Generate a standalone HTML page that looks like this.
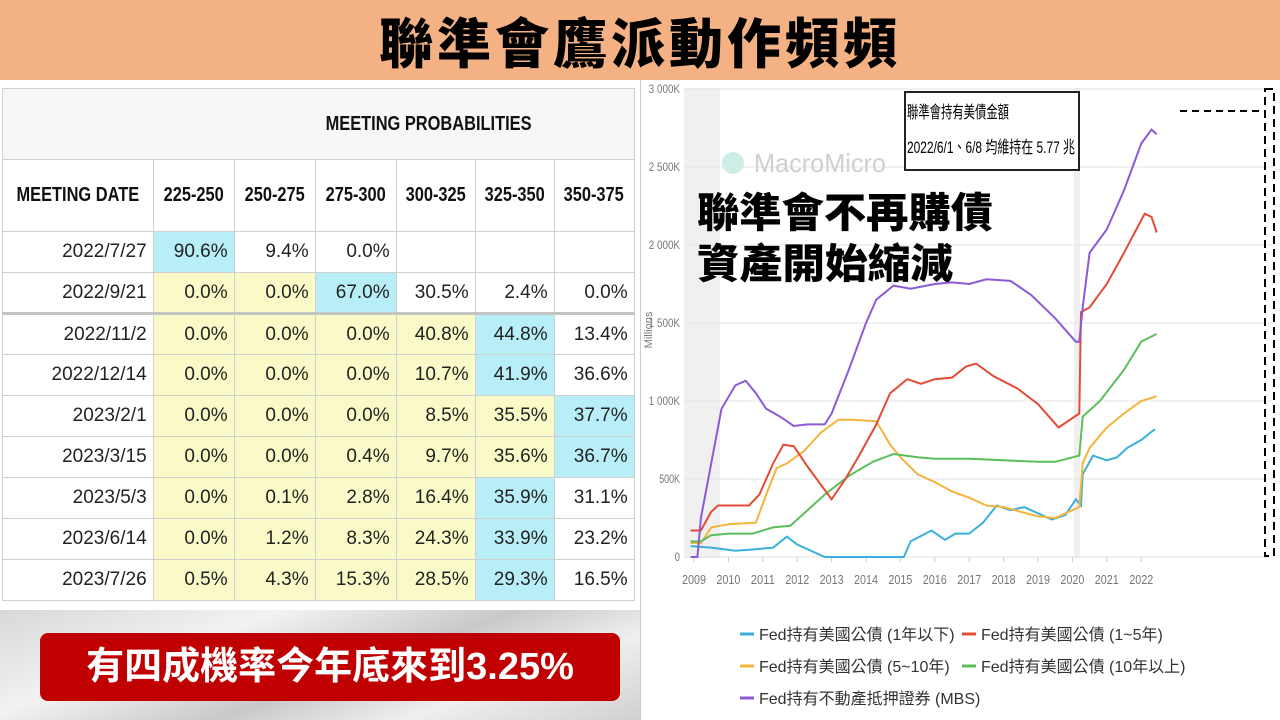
<!DOCTYPE html>
<html><head><meta charset="utf-8">
<style>
body{margin:0;width:1280px;height:720px;overflow:hidden;background:#fff;font-family:"Liberation Sans","Noto Sans CJK TC",sans-serif;position:relative}
#title{position:absolute;left:0;top:0;width:1280px;height:80px;background:#f4b183;text-align:center;font:900 54px/80px "Noto Sans CJK TC",sans-serif;color:#000;letter-spacing:4px}
#bg{position:absolute;left:0;top:610px;width:640px;height:110px;background:linear-gradient(160deg,#d8d8d8,#f2f2f2 30%,#c9c9c9 55%,#efefef 75%,#d0d0d0)}
table{position:absolute;left:2px;top:88px;border-collapse:collapse;font-size:19px;color:#222;background:#fff;table-layout:fixed}
td{border:1px solid #d0d0d0;height:41px;text-align:right;padding:0 6px;box-sizing:border-box;white-space:nowrap;overflow:hidden}
.y{background:#fafac8}.c{background:#b8eef8}
.h td{font-weight:bold;text-align:center;background:#f7f7f7;height:71px;color:#111}
.k{display:inline-block;transform:scaleX(0.82);transform-origin:center}
.sep td{border-top:3px solid #c4c4c4}
#red{position:absolute;left:40px;top:633px;width:580px;height:68px;background:#c00000;border-radius:8px;color:#fff;font:bold 38px/68px "Liberation Sans","Noto Sans CJK TC",sans-serif;text-align:center}
#right{position:absolute;left:640px;top:80px;width:640px;height:640px;border-left:1px solid #ccc}
</style></head><body>
<div id="title">聯準會鷹派動作頻頻</div>
<div id="bg"></div>
<table>
<colgroup><col style="width:150px"><col style="width:81px"><col style="width:81px"><col style="width:81px"><col style="width:79px"><col style="width:79px"><col style="width:80px"></colgroup>
<tr class="h"><td style="border-right:none"></td><td colspan="6" style="text-align:left;padding-left:150px;border-left:none;font-size:20px"><span class="k">MEETING PROBABILITIES</span></td></tr>
<tr class="h"><td style="height:72px;background:#fff;padding:0;font-size:20px"><span class="k">MEETING DATE</span></td><td style="background:#fff;padding:0;font-size:20px"><span class="k">225-250</span></td><td style="background:#fff;padding:0;font-size:20px"><span class="k">250-275</span></td><td style="background:#fff;padding:0;font-size:20px"><span class="k">275-300</span></td><td style="background:#fff;padding:0;font-size:20px"><span class="k">300-325</span></td><td style="background:#fff;padding:0;font-size:20px"><span class="k">325-350</span></td><td style="background:#fff;padding:0;font-size:20px"><span class="k">350-375</span></td></tr>
<tr><td>2022/7/27</td><td class="c">90.6%</td><td>9.4%</td><td>0.0%</td><td></td><td></td><td></td></tr>
<tr><td>2022/9/21</td><td class="y">0.0%</td><td class="y">0.0%</td><td class="c">67.0%</td><td>30.5%</td><td>2.4%</td><td>0.0%</td></tr>
<tr class="sep"><td>2022/11/2</td><td class="y">0.0%</td><td class="y">0.0%</td><td class="y">0.0%</td><td class="y">40.8%</td><td class="c">44.8%</td><td>13.4%</td></tr>
<tr><td>2022/12/14</td><td class="y">0.0%</td><td class="y">0.0%</td><td class="y">0.0%</td><td class="y">10.7%</td><td class="c">41.9%</td><td>36.6%</td></tr>
<tr><td>2023/2/1</td><td class="y">0.0%</td><td class="y">0.0%</td><td class="y">0.0%</td><td class="y">8.5%</td><td class="y">35.5%</td><td class="c">37.7%</td></tr>
<tr><td>2023/3/15</td><td class="y">0.0%</td><td class="y">0.0%</td><td class="y">0.4%</td><td class="y">9.7%</td><td class="y">35.6%</td><td class="c">36.7%</td></tr>
<tr><td>2023/5/3</td><td class="y">0.0%</td><td class="y">0.1%</td><td class="y">2.8%</td><td class="y">16.4%</td><td class="c">35.9%</td><td>31.1%</td></tr>
<tr><td>2023/6/14</td><td class="y">0.0%</td><td class="y">1.2%</td><td class="y">8.3%</td><td class="y">24.3%</td><td class="c">33.9%</td><td>23.2%</td></tr>
<tr><td>2023/7/26</td><td class="y">0.5%</td><td class="y">4.3%</td><td class="y">15.3%</td><td class="y">28.5%</td><td class="c">29.3%</td><td>16.5%</td></tr>
</table>
<div id="red">有四成機率今年底來到3.25%</div>
<div id="right"></div>
<svg id="ch" width="1280" height="720" style="position:absolute;left:0;top:0" font-family="Liberation Sans, sans-serif"></svg>
<script>
var s=document.getElementById('ch'),h='';
function X(t){return 694+(t-2009)*34.4}function Y(v){return 557-v*0.156}
h+='<rect x="684" y="88" width="36" height="470" fill="#f0f0f0"/><rect x="1074" y="88" width="6" height="470" fill="#f0f0f0"/>';
var labs=['0','500K','1 000K','1 500K','2 000K','2 500K','3 000K'];
for(var i=0;i<=6;i++){var y=Y(i*500);h+='<line x1="684" x2="1272" y1="'+y+'" y2="'+y+'" stroke="#e4e4e4"/>';h+='<text x="680" y="'+(y+4)+'" font-size="12" fill="#777" text-anchor="end" textLength="'+(labs[i].length*5.2)+'" lengthAdjust="spacingAndGlyphs">'+labs[i]+'</text>';}
for(var yr=2009;yr<=2022;yr++){h+='<text x="'+(X(yr)-12)+'" y="584" font-size="13" fill="#777" textLength="24" lengthAdjust="spacingAndGlyphs">'+yr+'</text><line x1="'+X(yr)+'" x2="'+X(yr)+'" y1="557" y2="562" stroke="#ccc"/>';}
h+='<text x="652" y="330" font-size="11" fill="#777" transform="rotate(-90 652 330)" text-anchor="middle">Millions</text>';
h+='<circle cx="733" cy="163" r="11" fill="#cdeee6"/><text x="754" y="172" font-size="26" fill="#cfcfcf" textLength="132" lengthAdjust="spacingAndGlyphs">MacroMicro</text>';
var S={
p:['#8a5ad8',[[2008.9,0],[2009.1,0],[2009.2,250],[2009.5,600],[2009.8,950],[2010.2,1100],[2010.5,1130],[2010.8,1050],[2011.1,950],[2011.5,900],[2011.9,840],[2012.3,850],[2012.8,850],[2013,920],[2013.5,1200],[2014,1500],[2014.3,1650],[2014.8,1740],[2015.3,1720],[2016,1750],[2016.5,1760],[2017,1750],[2017.5,1780],[2018.2,1770],[2018.8,1680],[2019.5,1530],[2020.1,1380],[2020.2,1380],[2020.3,1600],[2020.5,1950],[2021,2100],[2021.5,2350],[2022,2650],[2022.3,2740],[2022.45,2710]]],
r:['#e44b35',[[2008.9,170],[2009.2,170],[2009.5,290],[2009.7,330],[2010.6,330],[2010.9,400],[2011.3,600],[2011.6,720],[2011.9,710],[2012.3,580],[2012.8,430],[2013,370],[2013.4,500],[2013.8,650],[2014.3,850],[2014.7,1050],[2015.2,1140],[2015.6,1110],[2016,1140],[2016.5,1150],[2016.9,1220],[2017.2,1240],[2017.7,1160],[2018.4,1080],[2019,980],[2019.6,830],[2020.2,920],[2020.25,1570],[2020.5,1600],[2021,1750],[2021.5,1950],[2022.1,2200],[2022.3,2180],[2022.45,2080]]],
o:['#f4b43c',[[2008.9,90],[2009.2,90],[2009.5,190],[2010,210],[2010.8,220],[2011.1,400],[2011.4,570],[2011.7,600],[2012.2,680],[2012.7,800],[2013.2,880],[2013.6,880],[2014.3,870],[2014.7,720],[2015,640],[2015.5,530],[2016,480],[2016.5,420],[2017,380],[2017.5,330],[2018,320],[2018.5,290],[2019,260],[2019.5,250],[2020,300],[2020.2,320],[2020.3,600],[2020.5,700],[2021,830],[2021.5,920],[2022,1000],[2022.45,1030]]],
g:['#5cbf5c',[[2008.9,100],[2009.2,100],[2009.5,140],[2010,150],[2010.7,150],[2011.3,190],[2011.8,200],[2012.3,300],[2012.8,400],[2013.5,520],[2014.2,610],[2014.8,660],[2015.5,640],[2016,630],[2017,630],[2018,620],[2019,610],[2019.5,610],[2020.2,650],[2020.3,900],[2020.8,1000],[2021.5,1200],[2022,1380],[2022.45,1430]]],
c:['#3ab0da',[[2008.9,70],[2009.5,60],[2010.2,40],[2010.8,50],[2011.3,60],[2011.7,130],[2012,80],[2012.5,30],[2012.8,0],[2015.1,0],[2015.3,100],[2015.9,170],[2016.3,110],[2016.6,150],[2017,150],[2017.4,220],[2017.8,330],[2018.2,300],[2018.6,320],[2019,280],[2019.4,240],[2019.8,270],[2020.1,370],[2020.25,330],[2020.3,530],[2020.6,650],[2021,620],[2021.3,640],[2021.6,700],[2022,750],[2022.4,820]]]};
['c','o','g','r','p'].forEach(function(k){h+='<polyline fill="none" stroke-width="2" stroke="'+S[k][0]+'" points="'+S[k][1].map(function(p){return X(p[0]).toFixed(1)+','+Y(p[1]).toFixed(1)}).join(' ')+'"/>';});
h+='<rect x="1265" y="89" width="9" height="467" fill="none" stroke="#000" stroke-width="2" stroke-dasharray="8,5"/><line x1="1180" x2="1265" y1="111" y2="111" stroke="#000" stroke-width="2" stroke-dasharray="7,5"/>';
h+='<rect x="905" y="92" width="174" height="78" fill="#fff" stroke="#222" stroke-width="2"/><text x="907" y="118" font-size="17" font-family="Noto Sans CJK TC,sans-serif" textLength="102" lengthAdjust="spacingAndGlyphs">聯準會持有美債金額</text><text x="907" y="153" font-size="17" font-family="Liberation Sans,Noto Sans CJK TC,sans-serif" textLength="168" lengthAdjust="spacingAndGlyphs">2022/6/1、6/8 均維持在 5.77 兆</text>';
h+='<text x="697" y="227" font-size="41" font-weight="900" font-family="Noto Sans CJK TC,sans-serif" textLength="296" lengthAdjust="spacingAndGlyphs">聯準會不再購債</text><text x="697" y="278" font-size="41" font-weight="900" font-family="Noto Sans CJK TC,sans-serif" textLength="256" lengthAdjust="spacingAndGlyphs">資產開始縮減</text>';
var L=[[740,634,'#3ab0da','Fed持有美國公債 (1年以下)'],[962,634,'#e44b35','Fed持有美國公債 (1~5年)'],[740,666,'#f4b43c','Fed持有美國公債 (5~10年)'],[962,666,'#5cbf5c','Fed持有美國公債 (10年以上)'],[740,698,'#8a5ad8','Fed持有不動產抵押證券 (MBS)']];
L.forEach(function(l){h+='<line x1="'+l[0]+'" x2="'+(l[0]+14)+'" y1="'+l[1]+'" y2="'+l[1]+'" stroke="'+l[2]+'" stroke-width="3"/><text x="'+(l[0]+19)+'" y="'+(l[1]+6)+'" font-size="16" fill="#333" font-family="Liberation Sans,Noto Sans CJK TC,sans-serif">'+l[3]+'</text>';});
s.innerHTML=h;
</script>
</body></html>
